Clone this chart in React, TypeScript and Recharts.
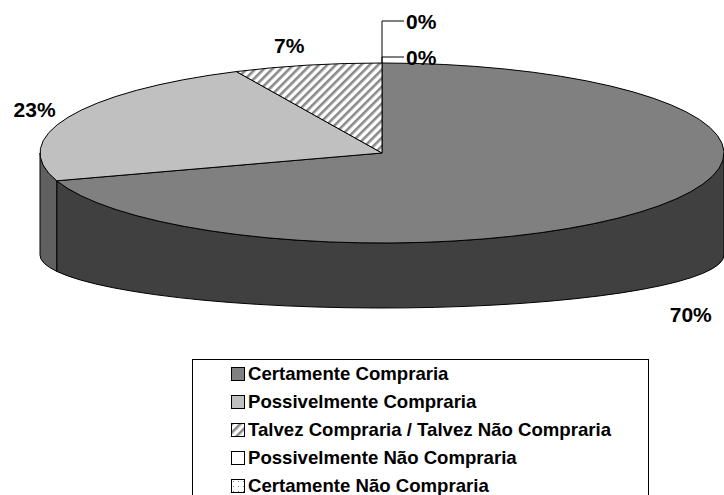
import React from 'react';
import { PieChart, Pie, Legend } from 'recharts';

// ---- data ----
const CATEGORIES = [
  'Certamente Compraria',
  'Possivelmente Compraria',
  'Talvez Compraria / Talvez Não Compraria',
  'Possivelmente Não Compraria',
  'Certamente Não Compraria',
];
const VALUES = [70, 23, 7, 0, 0];
const PERCENT_LABELS = ['70%', '23%', '7%', '0%', '0%'];

// ---- styles ----
const TOP_FILLS = ['#808080', '#C0C0C0', 'url(#hatch)', '#FFFFFF', 'url(#dots)'];
const SIDE_FILLS = ['#404040', '#606060', '#606060', '#FFFFFF', '#FFFFFF'];
const FONT = '"Liberation Sans", Arial, Helvetica, sans-serif';

const data = CATEGORIES.map((name, i) => ({ name, value: VALUES[i] }));

// ---- layout ----
const W = 724;
const H = 495;
const CX = 382;
const CY = 153;
const RX = 342;
const RY = 90; // top ellipse vertical radius
const CYB = 255; // bottom ellipse center
const RYB = 53; // bottom ellipse vertical radius

const rad = (d: number) => (d * Math.PI) / 180;
const toTheta = (a: number) => 90 - a; // clockwise from 12 o'clock

function topPt(cx: number, cy: number, r: number, th: number): [number, number] {
  const ry = (r * RY) / RX;
  return [cx + r * Math.sin(rad(th)), cy - ry * Math.cos(rad(th))];
}
function botPt(cx: number, cy: number, r: number, th: number): [number, number] {
  const ryb = (r * RYB) / RX;
  return [cx + r * Math.sin(rad(th)), cy + (CYB - CY) - ryb * Math.cos(rad(th))];
}

const renderWall = (p: any) => {
  const t1 = Math.min(toTheta(p.startAngle), toTheta(p.endAngle));
  const t2 = Math.max(toTheta(p.startAngle), toTheta(p.endAngle));
  const a = Math.max(t1, 90);
  const b = Math.min(t2, 270);
  if (b - a < 0.01) return <g />;
  const r = p.outerRadius;
  const ry = (r * RY) / RX;
  const ryb = (r * RYB) / RX;
  const [ax, ay] = topPt(p.cx, p.cy, r, a);
  const [bx, by] = topPt(p.cx, p.cy, r, b);
  const [bbx, bby] = botPt(p.cx, p.cy, r, b);
  const [bax, bay] = botPt(p.cx, p.cy, r, a);
  const d = `M${ax},${ay} A${r},${ry} 0 0 1 ${bx},${by} L${bbx},${bby} A${r},${ryb} 0 0 0 ${bax},${bay} Z`;
  return <path d={d} fill={SIDE_FILLS[p.index]} stroke="#000" strokeWidth={1} strokeLinejoin="round" />;
};

const renderTop = (p: any) => {
  const t1 = Math.min(toTheta(p.startAngle), toTheta(p.endAngle));
  const t2 = Math.max(toTheta(p.startAngle), toTheta(p.endAngle));
  if (t2 - t1 < 0.01) return <g />;
  const r = p.outerRadius;
  const ry = (r * RY) / RX;
  const [x1, y1] = topPt(p.cx, p.cy, r, t1);
  const [x2, y2] = topPt(p.cx, p.cy, r, t2);
  const large = t2 - t1 > 180 ? 1 : 0;
  const d = `M${p.cx},${p.cy} L${x1},${y1} A${r},${ry} 0 ${large} 1 ${x2},${y2} Z`;
  return <path d={d} fill={TOP_FILLS[p.index]} stroke="#000" strokeWidth={1} strokeLinejoin="round" />;
};

const renderText = (p: any) => {
  const i = p.index;
  const th = toTheta(p.midAngle);
  const s = Math.sin(rad(th));
  const c = Math.cos(rad(th));
  const r = p.outerRadius;
  const textStyle = { fontFamily: FONT, fontWeight: 700, fontSize: 21 } as const;
  if (VALUES[i] === 0) {
    const rank = VALUES.slice(0, i).filter((v) => v === 0).length;
    const [ax, ay] = topPt(p.cx, p.cy, r, th);
    const ly = ay - 6 - rank * 36;
    return (
      <g>
        <path d={`M${ax},${ay} V${ly} H${ax + 22}`} stroke="#000" strokeWidth={1} fill="none" />
        <text x={ax + 24} y={ly} dominantBaseline="central" textAnchor="start" fill="#000" style={textStyle}>
          {PERCENT_LABELS[i]}
        </text>
      </g>
    );
  }
  const x = p.cx + 1.04 * r * s;
  const y = c >= 0 ? topPt(p.cx, p.cy, r, th)[1] - 20 * c : botPt(p.cx, p.cy, r, th)[1] - 48 * c;
  return (
    <text x={x} y={y} dominantBaseline="central" textAnchor={s >= 0 ? 'start' : 'end'} fill="#000" style={textStyle}>
      {PERCENT_LABELS[i]}
    </text>
  );
};

const renderLegend = () => (
  <div
    style={{
      border: '1px solid #000',
      boxSizing: 'border-box',
      width: 457,
      height: 160,
      background: '#fff',
    }}
  >
    {CATEGORIES.map((name, i) => (
      <div key={name} style={{ display: 'flex', alignItems: 'center', height: 28, paddingLeft: 38 }}>
        <svg width={14} height={14} style={{ marginRight: 3, flex: 'none' }}>
          <rect x={0.5} y={0.5} width={13} height={13} fill={TOP_FILLS[i]} stroke="#000" strokeWidth={1} />
        </svg>
        <span
          style={{
            fontFamily: FONT,
            fontWeight: 700,
            fontSize: 18.6,
            color: '#000',
            lineHeight: '28px',
            whiteSpace: 'nowrap',
          }}
        >
          {name}
        </span>
      </div>
    ))}
  </div>
);

const common = {
  data,
  dataKey: 'value',
  nameKey: 'name',
  cx: CX,
  cy: CY,
  innerRadius: 0,
  outerRadius: RX,
  startAngle: 90,
  endAngle: -270,
  fill: 'transparent',
  stroke: 'none',
  labelLine: false,
  isAnimationActive: false,
} as const;

export default function App() {
  return (
    <div style={{ position: 'absolute', left: 0, top: 0, width: W, height: H, overflow: 'hidden', background: '#fff' }}>
      <svg width={0} height={0} style={{ position: 'absolute' }}>
        <defs>
          <pattern id="hatch" patternUnits="userSpaceOnUse" width={6} height={6} patternTransform="rotate(45)">
            <rect width={6} height={6} fill="#fff" />
            <rect x={0} y={0} width={2.6} height={6} fill="#8a8a8a" />
          </pattern>
          <pattern id="dots" patternUnits="userSpaceOnUse" width={5} height={5}>
            <rect width={5} height={5} fill="#fff" />
            <rect x={2} y={2} width={1} height={1} fill="#888" />
          </pattern>
        </defs>
      </svg>
      <PieChart width={W} height={H} margin={{ top: 0, right: 0, bottom: 0, left: 0 }}>
        <Pie {...common} legendType="none" label={renderWall} />
        <Pie {...common} legendType="none" label={renderTop} />
        <Pie {...common} label={renderText} />
        <Legend content={renderLegend} wrapperStyle={{ left: 192, top: 359, width: 457, height: 160 }} />
      </PieChart>
    </div>
  );
}
